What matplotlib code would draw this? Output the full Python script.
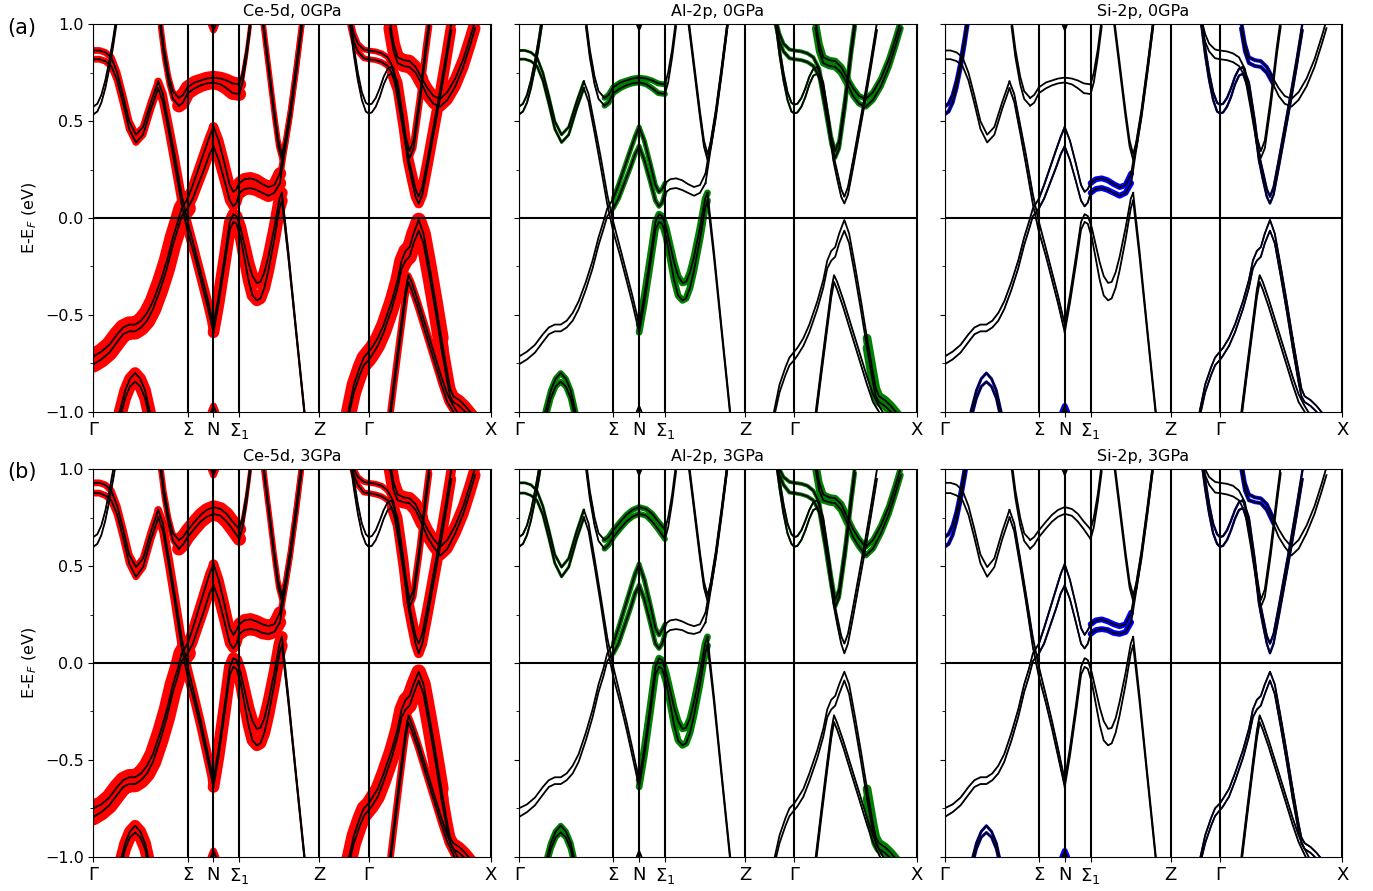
import numpy as np
import matplotlib.pyplot as plt
from matplotlib.ticker import MultipleLocator

# high-symmetry path
kpath = [0.0, 0.237, 0.302, 0.367, 0.568, 0.692, 1.0]
klabels = ['Γ', 'Σ', 'N', 'Σ$_1$', 'Z', 'Γ', 'X']

orbitals = ['Ce-5d', 'Al-2p', 'Si-2p']
fat_colors = ['#ff0000', '#008000', '#0000ff']
pressures = ['0GPa', '3GPa']

# each band piece: k, [upper, lower] at 0GPa, [upper, lower] at 3GPa, weights (Ce, Al, Si)
vlow_k = [0.066, 0.08, 0.092, 0.105, 0.118, 0.13, 0.142]
vlow_0 = [[-1.0, -0.89, -0.83, -0.80, -0.83, -0.89, -1.0],
          [-1.04, -0.93, -0.87, -0.845, -0.87, -0.93, -1.04]]
vlow_3 = [[-1.04, -0.93, -0.87, -0.84, -0.87, -0.93, -1.04],
          [-1.07, -0.96, -0.90, -0.875, -0.90, -0.96, -1.07]]
vlow_w = (0.6, 0.3, 0.15)

v1a_k = [0, 0.02, 0.04, 0.06, 0.075, 0.09, 0.105, 0.12, 0.135, 0.15, 0.168, 0.185, 0.20, 0.212, 0.222, 0.237]
v1a_0 = [[-0.715, -0.69, -0.655, -0.60, -0.565, -0.55, -0.55, -0.53, -0.49, -0.43, -0.33, -0.22, -0.10, -0.02, 0.05, 0.10],
         [-0.755, -0.73, -0.695, -0.64, -0.60, -0.585, -0.585, -0.565, -0.53, -0.47, -0.37, -0.26, -0.14, -0.06, 0.01, 0.05]]
v1a_3 = [[-0.75, -0.73, -0.695, -0.64, -0.605, -0.59, -0.59, -0.57, -0.53, -0.47, -0.36, -0.24, -0.11, -0.03, 0.05, 0.10],
         [-0.795, -0.77, -0.735, -0.68, -0.64, -0.625, -0.625, -0.605, -0.57, -0.51, -0.40, -0.28, -0.15, -0.07, 0.01, 0.05]]
v1a_w = (0.85, 0.0, 0.05)

v1b_k = [0.237, 0.25, 0.265, 0.28, 0.292, 0.302]
v1b_0 = [[0.10, 0.17, 0.26, 0.35, 0.42, 0.47],
         [0.05, 0.10, 0.18, 0.26, 0.33, 0.37]]
v1b_3 = [[0.10, 0.18, 0.28, 0.38, 0.46, 0.51],
         [0.05, 0.10, 0.19, 0.28, 0.36, 0.40]]
v1b_w = (0.45, 0.25, 0.1)

ctop_k = [0, 0.015, 0.03, 0.045, 0.06, 0.075, 0.09, 0.107, 0.125, 0.145, 0.163]
ctop_0 = [[0.865, 0.865, 0.855, 0.83, 0.75, 0.63, 0.50, 0.43, 0.47, 0.60, 0.705],
          [0.82, 0.82, 0.81, 0.785, 0.71, 0.59, 0.46, 0.39, 0.43, 0.565, 0.67]]
ctop_3 = [[0.93, 0.93, 0.92, 0.89, 0.81, 0.69, 0.56, 0.495, 0.54, 0.68, 0.79],
          [0.877, 0.877, 0.865, 0.84, 0.765, 0.645, 0.515, 0.445, 0.495, 0.64, 0.75]]
ctop_w = (0.35, 0.15, 0.0)

c1_k = [0.163, 0.175, 0.19, 0.205, 0.222, 0.237, 0.255, 0.27, 0.285, 0.302]
c1_0 = [[0.705, 0.64, 0.48, 0.32, 0.12, -0.02, -0.16, -0.28, -0.40, -0.55],
        [0.67, 0.60, 0.44, 0.27, 0.07, -0.07, -0.20, -0.32, -0.44, -0.59]]
c1_3 = [[0.79, 0.72, 0.54, 0.35, 0.13, -0.02, -0.17, -0.30, -0.44, -0.605],
        [0.753, 0.68, 0.50, 0.31, 0.08, -0.07, -0.21, -0.34, -0.48, -0.64]]
c1_w = (0.4, 0.0, 0.05)

np1_k = [0.302, 0.315, 0.33, 0.343, 0.352, 0.36, 0.367]
np1_0 = [[0.47, 0.40, 0.28, 0.17, 0.135, 0.15, 0.18],
         [0.37, 0.30, 0.19, 0.09, 0.06, 0.08, 0.13]]
np1_3 = [[0.51, 0.43, 0.30, 0.18, 0.145, 0.17, 0.20],
         [0.40, 0.33, 0.21, 0.10, 0.075, 0.10, 0.15]]
np1_w = (0.5, 0.25, 0.08)

np2_k = [0.367, 0.38, 0.395, 0.41, 0.425, 0.44, 0.455, 0.469]
np2_0 = [[0.18, 0.20, 0.205, 0.195, 0.175, 0.16, 0.17, 0.23],
         [0.13, 0.15, 0.155, 0.145, 0.13, 0.115, 0.13, 0.18]]
np2_3 = [[0.20, 0.22, 0.225, 0.215, 0.20, 0.19, 0.20, 0.26],
         [0.15, 0.17, 0.175, 0.17, 0.155, 0.15, 0.16, 0.21]]
np2_w = (0.65, 0.0, 0.3)

np3_k = [0.469, 0.48, 0.495, 0.51, 0.525]
np3_0 = [[0.23, 0.37, 0.56, 0.79, 1.03], [0.18, 0.33, 0.53, 0.76, 1.0]]
np3_3 = [[0.26, 0.39, 0.58, 0.81, 1.05], [0.21, 0.35, 0.55, 0.78, 1.02]]
np3_w = (0.25, 0.03, 0.0)

vs_k = [0.302, 0.315, 0.33, 0.343, 0.352, 0.36, 0.37, 0.38, 0.39, 0.40, 0.411, 0.42, 0.43, 0.44, 0.455, 0.468, 0.474]
vs_0 = [[-0.55, -0.40, -0.20, -0.02, 0.02, 0.01, -0.05, -0.14, -0.23, -0.30, -0.335, -0.33, -0.28, -0.20, -0.05, 0.10, 0.13],
        [-0.59, -0.44, -0.24, -0.06, -0.02, -0.03, -0.10, -0.21, -0.32, -0.40, -0.425, -0.415, -0.36, -0.27, -0.11, 0.05, 0.09]]
vs_3 = [[-0.605, -0.44, -0.22, -0.02, 0.025, 0.015, -0.05, -0.14, -0.23, -0.30, -0.34, -0.335, -0.285, -0.20, -0.05, 0.10, 0.135],
        [-0.64, -0.48, -0.26, -0.06, -0.02, -0.03, -0.10, -0.21, -0.32, -0.40, -0.425, -0.415, -0.36, -0.27, -0.11, 0.05, 0.09]]
vs_w = (0.6, 0.35, 0.03)

vz_k = [0.474, 0.49, 0.51, 0.532]
vz_0 = [[0.13, -0.17, -0.58, -1.02], [0.09, -0.20, -0.60, -1.04]]
vz_3 = [[0.135, -0.17, -0.58, -1.02], [0.09, -0.20, -0.60, -1.04]]
vz_w = (0.08, 0.0, 0.0)

c2l_k = [0.168, 0.178, 0.19, 0.20, 0.215]
c2l_0 = [[1.03, 0.87, 0.73, 0.655, 0.62], [0.99, 0.83, 0.69, 0.615, 0.58]]
c2l_3 = [[1.05, 0.89, 0.75, 0.67, 0.635], [1.01, 0.85, 0.71, 0.63, 0.59]]
c2l_w = (0.25, 0.05, 0.0)

c2m_k = [0.215, 0.225, 0.237, 0.255, 0.27, 0.285, 0.302, 0.32, 0.335, 0.35, 0.367]
c2m_0 = [[0.62, 0.635, 0.675, 0.70, 0.71, 0.72, 0.725, 0.72, 0.71, 0.695, 0.69],
         [0.58, 0.595, 0.645, 0.67, 0.685, 0.695, 0.70, 0.69, 0.67, 0.645, 0.64]]
c2m_3 = [[0.635, 0.65, 0.685, 0.73, 0.765, 0.79, 0.805, 0.795, 0.77, 0.73, 0.69],
         [0.59, 0.61, 0.65, 0.695, 0.73, 0.755, 0.77, 0.76, 0.73, 0.69, 0.64]]
c2m_w = (0.7, 0.3, 0.0)

c2r_k = [0.367, 0.375, 0.385, 0.395]
c2r_0 = [[0.69, 0.75, 0.87, 1.03], [0.64, 0.70, 0.83, 0.99]]
c2r_3 = [[0.69, 0.75, 0.87, 1.03], [0.64, 0.70, 0.83, 0.99]]
c2r_w = (0.15, 0.0, 0.0)

pg_k = [0, 0.01, 0.02, 0.03, 0.04, 0.05, 0.058]
pg_0 = [[0.575, 0.59, 0.635, 0.71, 0.81, 0.93, 1.04], [0.535, 0.55, 0.595, 0.67, 0.77, 0.89, 1.0]]
pg_3 = [[0.65, 0.665, 0.71, 0.785, 0.885, 1.0, 1.1], [0.60, 0.615, 0.66, 0.735, 0.835, 0.95, 1.05]]
pg_w = (0.05, 0.1, 0.2)

ntop_k = [0.29, 0.296, 0.302, 0.308, 0.314]
ntop_0 = [[1.06, 1.0, 0.97, 1.0, 1.06], [1.1, 1.04, 1.0, 1.04, 1.1]]
ntop_3 = [[1.06, 1.0, 0.97, 1.0, 1.06], [1.1, 1.04, 1.0, 1.04, 1.1]]
ntop_w = (0.35, 0.0, 0.0)

nbot_k = [0.29, 0.296, 0.302, 0.308, 0.314]
nbot_0 = [[-1.06, -1.0, -0.97, -1.0, -1.06], [-1.1, -1.04, -1.0, -1.04, -1.1]]
nbot_3 = [[-1.06, -1.0, -0.97, -1.0, -1.06], [-1.1, -1.04, -1.0, -1.04, -1.1]]
nbot_w = (0.35, 0.05, 0.3)

vc_k = [0.425, 0.44, 0.455, 0.465, 0.474, 0.483, 0.495, 0.51, 0.525]
vc_0 = [[1.05, 0.80, 0.55, 0.40, 0.33, 0.40, 0.55, 0.78, 1.03],
        [1.02, 0.77, 0.52, 0.37, 0.30, 0.37, 0.52, 0.75, 1.0]]
vc_3 = [[1.07, 0.82, 0.57, 0.42, 0.35, 0.42, 0.57, 0.80, 1.05],
        [1.04, 0.79, 0.54, 0.39, 0.32, 0.39, 0.54, 0.77, 1.02]]
vc_w = (0.25, 0.05, 0.0)

rt_k = [0.645, 0.655, 0.665, 0.68, 0.692, 0.71, 0.725, 0.74, 0.755, 0.77, 0.785, 0.795, 0.805, 0.82, 0.835, 0.845]
rt_0 = [[1.03, 0.95, 0.90, 0.87, 0.865, 0.86, 0.85, 0.83, 0.77, 0.60, 0.42, 0.345, 0.40, 0.62, 0.88, 1.03],
        [1.0, 0.91, 0.86, 0.825, 0.82, 0.815, 0.805, 0.785, 0.73, 0.56, 0.38, 0.31, 0.36, 0.58, 0.84, 0.99]]
rt_3 = [[1.08, 1.0, 0.96, 0.935, 0.93, 0.925, 0.915, 0.89, 0.83, 0.65, 0.45, 0.325, 0.38, 0.60, 0.86, 1.02],
        [1.05, 0.97, 0.92, 0.88, 0.877, 0.87, 0.86, 0.84, 0.78, 0.60, 0.40, 0.29, 0.34, 0.56, 0.82, 0.98]]
rt_w = (0.3, 0.2, 0.03)

pr_k = [0.645, 0.655, 0.665, 0.675, 0.685, 0.692, 0.70, 0.71, 0.72, 0.73, 0.74, 0.75]
pr_0 = [[1.04, 0.88, 0.75, 0.65, 0.595, 0.585, 0.59, 0.62, 0.67, 0.73, 0.77, 0.78],
        [1.0, 0.84, 0.71, 0.61, 0.55, 0.54, 0.545, 0.575, 0.625, 0.69, 0.735, 0.745]]
pr_3 = [[1.1, 0.95, 0.82, 0.72, 0.665, 0.65, 0.655, 0.685, 0.735, 0.79, 0.83, 0.84],
        [1.05, 0.90, 0.77, 0.67, 0.615, 0.60, 0.605, 0.635, 0.685, 0.745, 0.79, 0.80]]
pr_w = (0.05, 0.1, 0.12)

rd_k = [0.75, 0.765, 0.78, 0.79, 0.80, 0.81, 0.818, 0.827, 0.84, 0.855, 0.87, 0.885, 0.90]
rd_0 = [[0.78, 0.70, 0.50, 0.33, 0.24, 0.15, 0.11, 0.16, 0.30, 0.47, 0.64, 0.82, 1.01],
        [0.745, 0.66, 0.46, 0.30, 0.20, 0.11, 0.075, 0.12, 0.26, 0.43, 0.60, 0.78, 0.97]]
rd_3 = [[0.84, 0.75, 0.53, 0.34, 0.24, 0.14, 0.10, 0.15, 0.29, 0.46, 0.63, 0.81, 1.0],
        [0.80, 0.71, 0.49, 0.31, 0.20, 0.10, 0.05, 0.10, 0.24, 0.41, 0.58, 0.76, 0.95]]
rd_w = (0.5, 0.05, 0.12)

rf1_k = [0.745, 0.755, 0.765, 0.78, 0.795, 0.81, 0.826]
rf1_0 = [[1.02, 0.90, 0.83, 0.815, 0.81, 0.78, 0.72],
         [0.98, 0.86, 0.80, 0.785, 0.78, 0.75, 0.69]]
rf1_3 = [[1.05, 0.93, 0.87, 0.855, 0.85, 0.82, 0.75],
         [1.01, 0.89, 0.84, 0.83, 0.825, 0.79, 0.72]]
rf1_w = (0.65, 0.35, 0.2)

rf2_k = [0.826, 0.84, 0.855, 0.872, 0.89, 0.91, 0.93, 0.947, 0.96]
rf2_0 = [[0.72, 0.67, 0.63, 0.615, 0.65, 0.72, 0.82, 0.93, 1.02],
         [0.69, 0.63, 0.59, 0.575, 0.61, 0.68, 0.78, 0.89, 0.98]]
rf2_3 = [[0.75, 0.69, 0.64, 0.60, 0.635, 0.71, 0.81, 0.92, 1.01],
         [0.72, 0.65, 0.60, 0.555, 0.59, 0.67, 0.77, 0.88, 0.97]]
rf2_w = (0.55, 0.3, 0.03)

rv1a_k = [0.641, 0.655, 0.67, 0.68, 0.692, 0.70, 0.715, 0.73, 0.75, 0.765, 0.775, 0.785, 0.795, 0.805, 0.818, 0.83, 0.845, 0.86, 0.875]
rv1a_0 = [[-1.0, -0.86, -0.77, -0.72, -0.69, -0.67, -0.62, -0.55, -0.43, -0.32, -0.22, -0.17, -0.15, -0.08, -0.01, -0.08, -0.25, -0.43, -0.62],
          [-1.03, -0.90, -0.81, -0.76, -0.733, -0.71, -0.66, -0.59, -0.47, -0.36, -0.26, -0.22, -0.20, -0.13, -0.065, -0.13, -0.30, -0.48, -0.67]]
rv1a_3 = [[-1.02, -0.89, -0.80, -0.75, -0.725, -0.70, -0.65, -0.57, -0.45, -0.34, -0.24, -0.19, -0.17, -0.11, -0.045, -0.11, -0.28, -0.46, -0.65],
          [-1.05, -0.93, -0.84, -0.79, -0.76, -0.74, -0.69, -0.61, -0.49, -0.38, -0.28, -0.24, -0.22, -0.16, -0.09, -0.16, -0.33, -0.51, -0.70]]
rv1a_w = (0.75, 0.0, 0.08)

rv1b_k = [0.875, 0.89, 0.897, 0.905, 0.92, 0.935, 0.955]
rv1b_0 = [[-0.62, -0.80, -0.88, -0.92, -0.94, -0.97, -1.02],
          [-0.67, -0.85, -0.92, -0.95, -0.97, -1.0, -1.05]]
rv1b_3 = [[-0.65, -0.83, -0.90, -0.93, -0.95, -0.98, -1.03],
          [-0.70, -0.87, -0.93, -0.96, -0.98, -1.01, -1.06]]
rv1b_w = (0.55, 0.45, 0.08)

rv2_k = [0.746, 0.76, 0.775, 0.785, 0.792, 0.80, 0.815, 0.83, 0.845, 0.86, 0.875, 0.89, 0.905, 0.92]
rv2_0 = [[-1.0, -0.77, -0.53, -0.37, -0.295, -0.33, -0.42, -0.52, -0.62, -0.72, -0.82, -0.91, -0.97, -1.02],
         [-1.04, -0.81, -0.57, -0.41, -0.33, -0.37, -0.46, -0.56, -0.66, -0.76, -0.86, -0.95, -1.0, -1.05]]
rv2_3 = [[-1.0, -0.76, -0.51, -0.35, -0.27, -0.31, -0.40, -0.50, -0.60, -0.70, -0.80, -0.89, -0.96, -1.02],
         [-1.04, -0.80, -0.55, -0.39, -0.305, -0.345, -0.435, -0.535, -0.635, -0.735, -0.835, -0.925, -0.99, -1.05]]
rv2_w = (0.3, 0.05, 0.05)

bands = [
    (vlow_k, vlow_0, vlow_3, vlow_w), (v1a_k, v1a_0, v1a_3, v1a_w), (v1b_k, v1b_0, v1b_3, v1b_w),
    (ctop_k, ctop_0, ctop_3, ctop_w), (c1_k, c1_0, c1_3, c1_w), (np1_k, np1_0, np1_3, np1_w),
    (np2_k, np2_0, np2_3, np2_w), (np3_k, np3_0, np3_3, np3_w), (vs_k, vs_0, vs_3, vs_w),
    (vz_k, vz_0, vz_3, vz_w), (c2l_k, c2l_0, c2l_3, c2l_w), (c2m_k, c2m_0, c2m_3, c2m_w),
    (c2r_k, c2r_0, c2r_3, c2r_w), (pg_k, pg_0, pg_3, pg_w), (ntop_k, ntop_0, ntop_3, ntop_w),
    (nbot_k, nbot_0, nbot_3, nbot_w), (vc_k, vc_0, vc_3, vc_w), (rt_k, rt_0, rt_3, rt_w),
    (pr_k, pr_0, pr_3, pr_w), (rd_k, rd_0, rd_3, rd_w), (rf1_k, rf1_0, rf1_3, rf1_w),
    (rf2_k, rf2_0, rf2_3, rf2_w), (rv1a_k, rv1a_0, rv1a_3, rv1a_w), (rv1b_k, rv1b_0, rv1b_3, rv1b_w),
    (rv2_k, rv2_0, rv2_3, rv2_w),
]

max_lw = 14.0
fs = 11.5

fig = plt.figure(figsize=(13.73, 8.91), dpi=100)
lefts = [0.068, 0.378, 0.688]
bottoms = [0.5379, 0.0385]

for row, pres in enumerate(pressures):
    for col, orb in enumerate(orbitals):
        ax = fig.add_axes([lefts[col], bottoms[row], 0.2897, 0.4348])
        for k, e0, e3, w in bands:
            ee = e0 if row == 0 else e3
            for line in ee:
                if w[col] > 0.01:
                    ax.plot(k, line, color=fat_colors[col], lw=w[col] * max_lw,
                            solid_capstyle='round', solid_joinstyle='round', zorder=1)
                ax.plot(k, line, color='k', lw=1.3, zorder=3)
        for kp in kpath:
            ax.axvline(kp, color='k', lw=1.5, zorder=4)
        ax.axhline(0, color='k', lw=1.5, zorder=4)
        ax.set_xlim(0, 1)
        ax.set_ylim(-1, 1)
        ax.set_xticks(kpath)
        ax.set_xticklabels(klabels, fontsize=13)
        ax.yaxis.set_major_locator(MultipleLocator(0.5))
        ax.yaxis.set_minor_locator(MultipleLocator(0.25))
        ax.tick_params(axis='y', labelsize=fs)
        ax.set_title(f'{orb}, {pres}', fontsize=fs)
        if col == 0:
            ax.set_ylabel('E-E$_F$ (eV)', fontsize=fs)
        else:
            ax.tick_params(labelleft=False)

fig.text(0.005, 0.969, '(a)', fontsize=15, va='center')
fig.text(0.005, 0.470, '(b)', fontsize=15, va='center')

fig.savefig('out.png', dpi=100)
